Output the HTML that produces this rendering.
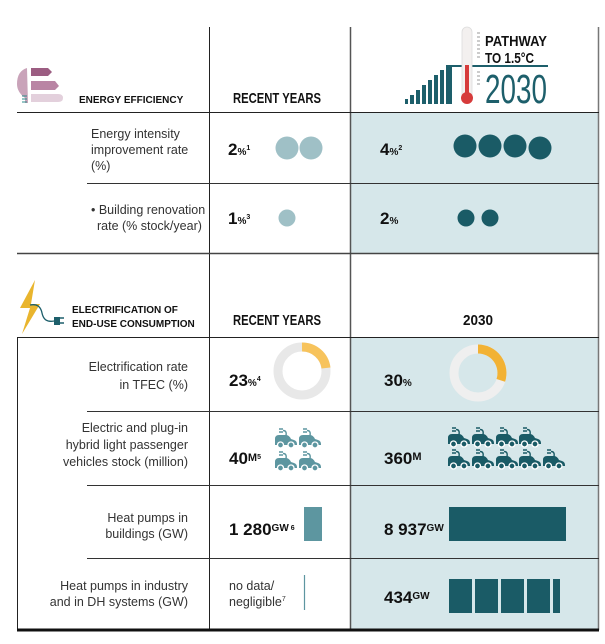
<!DOCTYPE html>
<html><head><meta charset="utf-8"><style>
html,body{margin:0;padding:0;background:#fff;}
svg{display:block;}
text{font-family:"Liberation Sans",sans-serif;}
.lab{font-size:12.5px;fill:#333;}
.num{font-size:17px;fill:#111;font-weight:bold;}
.hd{font-size:10px;fill:#111;font-weight:bold;}
.ry{font-size:15px;fill:#111;font-weight:bold;}
</style></head><body>
<svg width="605" height="644" viewBox="0 0 605 644" xmlns="http://www.w3.org/2000/svg">
<defs>
<g id="car">
<path d="M4 1 h4 M4 4 h4 M8 2.5 q4 0 3 5" stroke="currentColor" stroke-width="1.4" fill="none"/>
<path d="M0 17 v-6 q0-4 4-4 h7 q3 0 5 4 l3 1 q3 1 3 4 v1 z" fill="currentColor"/>
<circle cx="5.5" cy="17" r="3" fill="currentColor" stroke="#fff" stroke-width="1.3"/>
<circle cx="16" cy="17" r="3" fill="currentColor" stroke="#fff" stroke-width="1.3"/>
</g>
</defs>
<rect x="350" y="113" width="248" height="140" fill="#d6e7ea"/>
<rect x="350" y="338" width="248" height="292" fill="#d6e7ea"/>
<line x1="209.5" y1="27" x2="209.5" y2="630" stroke="#222" stroke-width="1"/>
<line x1="350.5" y1="27" x2="350.5" y2="630" stroke="#555" stroke-width="1.5"/>
<line x1="598.5" y1="27" x2="598.5" y2="630" stroke="#777" stroke-width="1.5"/>
<line x1="17" y1="112.5" x2="599" y2="112.5" stroke="#222" stroke-width="1"/>
<line x1="87" y1="183.5" x2="599" y2="183.5" stroke="#333" stroke-width="1"/>
<line x1="17" y1="253.5" x2="599" y2="253.5" stroke="#444" stroke-width="1.5"/>
<line x1="17" y1="337.5" x2="599" y2="337.5" stroke="#222" stroke-width="1"/>
<line x1="17.5" y1="337" x2="17.5" y2="630" stroke="#222" stroke-width="1"/>
<line x1="87" y1="411.5" x2="599" y2="411.5" stroke="#333" stroke-width="1"/>
<line x1="87" y1="485.5" x2="599" y2="485.5" stroke="#333" stroke-width="1"/>
<line x1="87" y1="558.5" x2="599" y2="558.5" stroke="#333" stroke-width="1"/>
<line x1="17" y1="630" x2="599" y2="630" stroke="#111" stroke-width="3"/>

<path d="M27 68 q-10 3 -10 16 q0 8 8 14 v5 h3 z" fill="#c9a3b9"/>
<path d="M31 68 h17 l4 4 l-4 4 h-17z" fill="#9c5d82"/>
<path d="M31 81 h24 l4 5 l-4 4 h-24z" fill="#b985a4"/>
<path d="M31 94 h27 q5 0 5 4 q0 4-5 4 h-27z" fill="#e3d0dc"/>
<path d="M22 96 h5 M22 99 h5 M22 102 h5" stroke="#2d8b8b" stroke-width="1"/>
<text x="79" y="103" class="hd">ENERGY EFFICIENCY</text>
<text x="277" y="103" class="ry" text-anchor="middle" textLength="88" lengthAdjust="spacingAndGlyphs">RECENT YEARS</text>

<g fill="#1d5f6b">
<rect x="405" y="99" width="3" height="5"/><rect x="410" y="95" width="4" height="9"/><rect x="416" y="90" width="4" height="14"/><rect x="422" y="85" width="4" height="19"/><rect x="428" y="80" width="4" height="24"/><rect x="434" y="75" width="4" height="29"/><rect x="440" y="70" width="4" height="34"/><rect x="446" y="65" width="4" height="39"/>
</g>
<path d="M451 104 V66 H548" stroke="#1d5f6b" stroke-width="2" fill="none"/>
<rect x="462" y="27" width="10" height="72" rx="5" fill="#f3f0ef" stroke="#ddd" stroke-width="0.8"/>
<rect x="465" y="65" width="4" height="34" fill="#d63b3b"/>
<circle cx="467" cy="98" r="6" fill="#d63b3b"/>
<path d="M477 33h3M477 37h3M477 41h3M477 45h3M477 49h3M477 53h3M477 57h3M477 72h3M477 76h3M477 80h3M477 84h3" stroke="#999" stroke-width="1"/>
<text x="485" y="46" font-size="15" font-weight="bold" fill="#111" textLength="62" lengthAdjust="spacingAndGlyphs">PATHWAY</text>
<text x="485" y="63" font-size="15" font-weight="bold" fill="#111" textLength="49" lengthAdjust="spacingAndGlyphs">TO 1.5°C</text>
<text x="485" y="103" font-size="41" fill="#1d5f6b" textLength="62" lengthAdjust="spacingAndGlyphs">2030</text>

<text class="lab"><tspan x="91" y="138">Energy intensity</tspan><tspan x="91" y="154">improvement rate</tspan><tspan x="91" y="170">(%)</tspan></text>
<text x="228" y="155" class="num">2<tspan font-size="10">%</tspan><tspan font-size="7" dy="-5">1</tspan></text>
<circle cx="287" cy="148" r="11.5" fill="#9fc0c6"/><circle cx="311" cy="148" r="11.5" fill="#9fc0c6"/>
<text x="380" y="155" class="num">4<tspan font-size="10">%</tspan><tspan font-size="7" dy="-5">2</tspan></text>
<g fill="#1a5b66"><circle cx="465" cy="146" r="11.5"/><circle cx="490" cy="146" r="11.5"/><circle cx="515" cy="146" r="11.5"/><circle cx="540" cy="148" r="11.5"/></g>

<text class="lab"><tspan x="91" y="214">• Building renovation</tspan><tspan x="97" y="230">rate (% stock/year)</tspan></text>
<text x="228" y="224" class="num">1<tspan font-size="10">%</tspan><tspan font-size="7" dy="-5">3</tspan></text>
<circle cx="287" cy="218" r="8.5" fill="#9fc0c6"/>
<text x="380" y="224" class="num">2<tspan font-size="10">%</tspan></text>
<circle cx="466" cy="218" r="8.5" fill="#1a5b66"/><circle cx="490" cy="218" r="8.5" fill="#1a5b66"/>

<path d="M35 280 L20 308 H30 L22 334 L40 304 H31 Z" fill="#e9b52e"/>
<path d="M30 305 q10 -2 12 8 q2 10 12 8" stroke="#1d5f6b" stroke-width="1.3" fill="none"/>
<path d="M54 317 h6 v8 h-6z" fill="#1d5f6b"/><path d="M60 318 h4 M60 323 h4" stroke="#1d5f6b" stroke-width="1.5"/>
<text x="72" y="313" class="hd" font-size="10.5">ELECTRIFICATION OF</text>
<text x="72" y="327" class="hd" font-size="10.5">END-USE CONSUMPTION</text>
<text x="277" y="325" class="ry" text-anchor="middle" textLength="88" lengthAdjust="spacingAndGlyphs">RECENT YEARS</text>
<text x="478" y="325" class="ry" text-anchor="middle" textLength="30" lengthAdjust="spacingAndGlyphs">2030</text>

<text class="lab" text-anchor="end"><tspan x="188" y="371">Electrification rate</tspan><tspan x="188" y="389">in TFEC (%)</tspan></text>
<text x="229" y="386" class="num">23<tspan font-size="10">%</tspan><tspan font-size="7" dy="-5">4</tspan></text>
<circle cx="302" cy="371" r="24" fill="none" stroke="#e8e8e8" stroke-width="9"/>
<path d="M302 347 A24 24 0 0 1 326 368" fill="none" stroke="#f7c35c" stroke-width="9"/>
<text x="384" y="386" class="num">30<tspan font-size="10">%</tspan></text>
<circle cx="478" cy="373" r="24" fill="none" stroke="#efefef" stroke-width="9"/>
<path d="M478 349 A24 24 0 0 1 500.8 380.4" fill="none" stroke="#f2b234" stroke-width="9"/>

<text class="lab" text-anchor="end"><tspan x="188" y="432">Electric and plug-in</tspan><tspan x="188" y="449">hybrid light passenger</tspan><tspan x="188" y="466">vehicles stock (million)</tspan></text>
<text x="229" y="464" class="num">40<tspan font-size="11" dy="-3">M</tspan><tspan font-size="7" dy="-2">5</tspan></text>
<g color="#5d96a0">
<use href="#car" x="275" y="428"/><use href="#car" x="299" y="428"/>
<use href="#car" x="275" y="451"/><use href="#car" x="299" y="451"/>
</g>
<text x="384" y="464" class="num">360<tspan font-size="11" dy="-4">M</tspan></text>
<g color="#1a5b66">
<use href="#car" x="448" y="427"/><use href="#car" x="472" y="427"/><use href="#car" x="496" y="427"/><use href="#car" x="519" y="427"/>
<use href="#car" x="448" y="449"/><use href="#car" x="472" y="449"/><use href="#car" x="496" y="449"/><use href="#car" x="519" y="449"/><use href="#car" x="543" y="449"/>
</g>

<text class="lab" text-anchor="end"><tspan x="188" y="522">Heat pumps in</tspan><tspan x="188" y="538">buildings (GW)</tspan></text>
<text x="229" y="535" class="num">1 280<tspan font-size="10" dy="-4">GW</tspan><tspan font-size="7" dy="-1"> 6</tspan></text>
<rect x="304" y="507" width="18" height="34" fill="#5d96a0"/>
<text x="384" y="535" class="num">8 937<tspan font-size="10" dy="-4">GW</tspan></text>
<rect x="449" y="507" width="117" height="34" fill="#1a5b66"/>

<text class="lab" text-anchor="end"><tspan x="188" y="590">Heat pumps in industry</tspan><tspan x="188" y="606">and in DH systems (GW)</tspan></text>
<text class="lab" font-size="12"><tspan x="229" y="590">no data/</tspan><tspan x="229" y="606">negligible<tspan font-size="7" dy="-5">7</tspan></tspan></text>
<line x1="304.5" y1="575" x2="304.5" y2="610" stroke="#5d96a0" stroke-width="1.2"/>
<text x="384" y="603" class="num">434<tspan font-size="10" dy="-4">GW</tspan></text>
<g fill="#1a5b66"><rect x="449" y="579" width="23" height="34"/><rect x="475" y="579" width="23" height="34"/><rect x="501" y="579" width="23" height="34"/><rect x="527" y="579" width="23" height="34"/><rect x="553" y="579" width="7" height="34"/></g>
</svg>
</body></html>
